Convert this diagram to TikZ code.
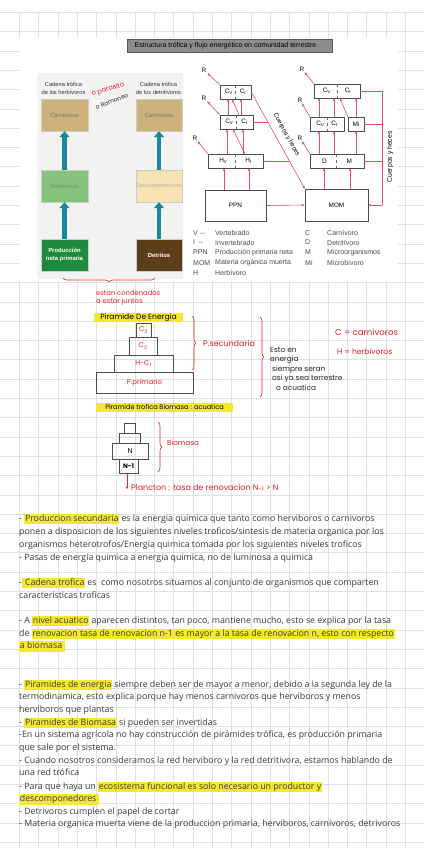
\documentclass[tikz,border=0pt]{standalone}
\usepackage{fontspec}
\setmainfont{Open Sans}
\newfontfamily\figfont{Liberation Sans}
\newfontfamily\handfont{Poppins}
\usetikzlibrary{arrows.meta,decorations.pathreplacing,positioning}

\definecolor{gridgray}{RGB}{224,224,224}
\definecolor{notegray}{RGB}{58,58,58}
\definecolor{hly}{RGB}{245,233,45}
\definecolor{handred}{RGB}{232,32,42}
\definecolor{netred}{RGB}{222,80,96}
\definecolor{chainteal}{RGB}{24,136,156}
\definecolor{panelgray}{RGB}{242,242,240}
\definecolor{tanbox}{RGB}{206,178,124}
\definecolor{herbgreen}{RGB}{134,196,126}
\definecolor{prodgreen}{RGB}{30,138,60}
\definecolor{creambox}{RGB}{247,226,178}
\definecolor{detbrown}{RGB}{92,62,24}

\newcommand\hlt[1]{{\setlength{\fboxsep}{0.7pt}\colorbox{hly}{\rule[-2.4pt]{0pt}{9.2pt}#1}}}
\newcommand\handsize[1]{\handfont\fontsize{#1}{9.5}\selectfont}

\tikzset{
  gridline/.style={draw=gridgray, line width=0.5pt},
  titlebar/.style={draw=black!65, fill=black!45, minimum width=205pt, minimum height=13pt, inner sep=0pt, font=\figfont\fontsize{7}{8}\selectfont},
  chainbox/.style={draw=black!20, minimum width=47pt, minimum height=32pt, inner sep=0pt, align=center, font=\figfont\fontsize{5.9}{7.4}\selectfont},
  chainhead/.style={align=center, inner sep=0pt, font=\figfont\fontsize{5.7}{8}\selectfont, text=black!80},
  tealflow/.style={draw=chainteal, line width=4.5pt, -{Triangle[length=6pt,width=10pt]}},
  netbox/.style={draw=black!70, line width=0.5pt, fill=white, inner sep=0pt, font=\figfont\fontsize{6.4}{7}\selectfont},
  flow/.style={draw=netred, line width=0.6pt, -{Stealth[length=3pt,width=2.6pt]}},
  link/.style={draw=netred, line width=0.6pt},
  rlabel/.style={inner sep=1pt, font=\figfont\fontsize{6.4}{7}\selectfont},
  legend/.style={anchor=west, inner sep=0pt, text=black!70, font=\figfont\fontsize{7}{8}\selectfont},
  hand/.style={inner sep=0pt, text=handred, font=\handsize{7.6}},
  handblack/.style={hand, text=black!85},
  pyrbox/.style={draw=black!70, line width=0.7pt, inner sep=0pt, font=\handsize{7}},
  redbrace/.style={draw=handred, line width=0.6pt, decorate, decoration={brace, amplitude=4pt}},
  note/.style={anchor=base west, inner sep=0pt, text=notegray, font=\fontsize{8.8}{10}\selectfont},
}

\begin{document}
\begin{tikzpicture}[x=1pt,y=-1pt]
\useasboundingbox (0,0) rectangle (424,848);
\fill[white] (0,0) rectangle (424,848);

% cuadricula
\foreach \gx in {1,...,21} \draw[gridline] (19.3*\gx,12.3) -- (19.3*\gx,848);
\foreach \gy in {0,...,43} \draw[gridline] (0,12.3+19.3*\gy) -- (424,12.3+19.3*\gy);

%%%%% figura %%%%%
\fill[white] (19,38) rectangle (398,281);
\fill[panelgray] (37,73) rectangle (183,279);
\node[titlebar] (title) at (229.5,45.5) {\hspace*{-8pt}Estructura trófica y flujo energético en comunidad terrestre};

% cadenas troficas
\node[chainhead] (headh) at (63.5,88) {Cadena trófica\\de los herbívoros};
\node[chainhead] (headd) at (158.5,88) {Cadena trófica\\de los detritívoros};

\node[chainbox, fill=tanbox, text=black!55] (carnh) at (64.5,115) {Carnívoros};
\node[chainbox, fill=herbgreen, text=black!50] (herb) at (64.5,186) {Herbívoros};
\node[chainbox, fill=prodgreen, text=white, font=\figfont\bfseries\fontsize{5.9}{7.6}\selectfont] (prod) at (64.5,255) {Producción\\neta primaria};

\node[chainbox, fill=tanbox, text=black!55, minimum width=46pt] (carnd) at (159,115) {Carnívoros};
\node[chainbox, fill=creambox, text=black!30, minimum width=46pt, font=\figfont\fontsize{5.5}{7}\selectfont] (desc) at (159,186) {Descomponedores};
\node[chainbox, fill=detbrown, text=white, minimum width=46pt, font=\figfont\bfseries\fontsize{5.9}{7.6}\selectfont] (detr) at (159,255) {Detritos};

\draw[tealflow] (prod.north) -- (herb.south);
\draw[tealflow] (herb.north) -- (carnh.south);
\draw[tealflow] (detr.north) -- (desc.south);
\draw[tealflow] (desc.north) -- (carnd.south);

\node[hand, rotate=16, font=\handsize{6.6}] (parasito) at (108,89.5) {o parasito};
\node[handblack, rotate=22, font=\handsize{6}] (ramoneo) at (112,101.5) {o Ramoneo};

% red herbivoros
\node[netbox, minimum width=31pt, minimum height=14pt] (lc3) at (235.5,92) {C\textsubscript{V}\hspace{7pt}C\textsubscript{I}};
\node[netbox, minimum width=33pt, minimum height=14pt] (lc2) at (236.5,122) {C\textsubscript{V}\hspace{8pt}C\textsubscript{I}};
\node[netbox, minimum width=55pt, minimum height=14pt] (lh) at (235.5,161) {H\textsubscript{V}\hspace{18pt}H\textsubscript{I}};
\node[netbox, minimum width=61pt, minimum height=31pt] (ppn) at (235.5,205.5) {PPN};
\foreach \b in {lc3,lc2,lh} \draw[dashed, black!60, line width=0.4pt] (\b.north) -- (\b.south);

\node[rlabel] (rl3) at (204,70) {R};
\node[rlabel] (rl2) at (204,98) {R};
\node[rlabel] (rl1) at (195,138) {R};
\draw[flow] (lc3.north west) -- (rl3);
\draw[flow] (lc2.north west) -- (rl2);
\draw[flow] (lh.north west) -- (rl1);

\draw[flow] (ppn.north -| 224,0) -- (lh.south -| 224,0);
\draw[flow] (ppn.north -| 249,0) -- (lh.south -| 249,0);
\draw[flow] (lh.north -| 227,0) -- (lc2.south -| 227,0);
\draw[flow] (lh.north -| 243,0) -- (lc2.south -| 243,0);
\draw[flow] (lh.north -| 245,0) -- (lc2.south -| 233,0);
\draw[flow] (lc2.north -| 228,0) -- (lc3.south -| 228,0);
\draw[flow] (lc2.north -| 241,0) -- (lc3.south -| 241,0);
\draw[flow] (lc2.north -| 239,0) -- (lc3.south -| 232,0);

% red detritivoros
\node[netbox, minimum width=46pt, minimum height=14pt] (rc3) at (337,91) {C\textsubscript{V}\hspace{14pt}C\textsubscript{I}};
\node[netbox, minimum width=34pt, minimum height=14pt] (rc2) at (327,124) {C\textsubscript{V}\hspace{7pt}C\textsubscript{I}};
\node[netbox, minimum width=16pt, minimum height=14pt] (mi) at (356,124) {Mi};
\node[netbox, minimum width=54pt, minimum height=14pt] (dm) at (337,161) {D\hspace{20pt}M};
\node[netbox, minimum width=63pt, minimum height=32pt] (mom) at (336.5,205) {MOM};
\draw[dashed, black!60, line width=0.4pt] (rc3.north -| 337,0) -- (rc3.south -| 337,0);
\draw[dashed, black!60, line width=0.4pt] (rc2.north) -- (rc2.south);
\draw[dashed, black!60, line width=0.4pt] (dm.north -| 336,0) -- (dm.south -| 336,0);

\node[rlabel] (rr3) at (302,69) {R};
\node[rlabel] (rr2) at (300,100) {R};
\node[rlabel] (rr1) at (300,138) {R};
\draw[flow] (rc3.north west) -- (rr3);
\draw[flow] (rc2.north west) -- (rr2);
\draw[flow] (dm.north west) -- (rr1);

\draw[flow] (mom.north -| 324,0) -- (dm.south -| 324,0);
\draw[flow] (mom.north -| 350,0) -- (dm.south -| 350,0);
\draw[flow] (dm.north -| 319,0) -- (rc2.south -| 319,0);
\draw[flow] (dm.north -| 334,0) -- (rc2.south -| 334,0);
\draw[flow] (dm.north -| mi.south) -- (mi.south);
\draw[flow] (rc2.north -| 319,0) -- (rc3.south -| 319,0);
\draw[flow] (rc2.north -| 334,0) -- (rc3.south -| 334,0);
\draw[flow] (mi.north) -- (rc3.south -| mi.north);
\draw[flow] (mi.north west) -- (rc3.south -| 340,0);

% cuerpos y heces
\coordinate (j2) at (267.7,122);
\coordinate (j1) at (289.4,161);
\draw[flow] (lc3.east) -- (mom.north west);
\draw[link] (lc2.east) -- (j2);
\draw[link] (lh.east) -- (j1);
\draw[flow] (ppn.east) -- (mom.west);
\node[rlabel, rotate=-61, inner sep=0pt] (heces1) at (286.5,135) {Cuerpos y heces};

\coordinate (ct) at (382,91);
\coordinate (cb) at (382,205);
\draw[link] (rc3.east) -- (ct) -- (cb);
\draw[link] (mi.east) -- (mi.east -| ct);
\draw[link] (dm.east) -- (dm.east -| ct);
\draw[flow] (cb) -- (mom.east);
\node[rlabel, rotate=90, font=\figfont\fontsize{6.8}{7}\selectfont] (heces2) at (390,157) {Cuerpos y heces};

% leyenda
\node[legend] (lv) at (193,233) {V\,\,--};
\node[legend] (li) at (193,242.5) {I\,\,\,--};
\node[legend] (lppn) at (193,252.5) {PPN};
\node[legend] (lmom) at (193,263) {MOM};
\node[legend] (lhh) at (193,273) {H};
\node[legend] (tv) at (215,233) {Vertebrado};
\node[legend] (ti) at (215,242.5) {Invertebrado};
\node[legend] (tppn) at (215,252.5) {Producción primaria neta};
\node[legend] (tmom) at (215,263) {Materia orgánica muerta};
\node[legend] (th) at (215,273) {Herbívoro};
\node[legend] (lc) at (305,233) {C};
\node[legend] (ld) at (305,242.5) {D};
\node[legend] (lm) at (305,252.5) {M};
\node[legend] (lmi) at (305,263) {Mi};
\node[legend] (tc) at (327,233) {Carnívoro};
\node[legend] (td) at (327,242.5) {Detritívoro};
\node[legend] (tm) at (327,252.5) {Microorganismos};
\node[legend] (tmi) at (327,263) {Microbívoro};

%%%%% notas a mano %%%%%
\draw[redbrace, decoration={mirror}] (63,278) -- (155,278);
\node[hand, anchor=north west, align=left, font=\handfont\fontsize{6.8}{8.2}\selectfont] (juntos) at (96,290) {estan condenados\\a estar juntos};

\node[hand, text=black, fill=hly, minimum width=89pt, minimum height=9pt] (pirener) at (138.5,317.5) {Piramide De Energia};
\node[pyrbox, minimum width=15pt, minimum height=14pt, text=handred] (c3box) at (143.5,330) {C\textsubscript{3}};
\node[pyrbox, minimum width=28pt, minimum height=18pt, text=handred] (c2box) at (143,346) {C\textsubscript{2}};
\node[pyrbox, minimum width=59pt, minimum height=17pt, text=handred] (hcbox) at (143.5,363.5) {H-C\textsubscript{1}};
\node[pyrbox, minimum width=97pt, minimum height=21pt, text=handred] (ppbox) at (144.5,382.5) {P.primario};

\draw[redbrace] (192,316) -- (192,370);
\node[hand, anchor=west, font=\handsize{8}] (psec) at (203,343) {P.secundaria};
\draw[redbrace] (260,317) -- (260,397);
\node[handblack, anchor=north west, align=left, font=\handsize{7.4}] (estoen) at (270,347) {Esto en\\energia\\\hspace{2pt}siempre seran\\\hspace{2pt}osi ya sea terrestre\\\hspace{6pt}o acuatica};

\node[hand, anchor=west, font=\handsize{8.6}] (cdef) at (335,332) {C = carnivoros};
\node[hand, anchor=west, font=\handsize{7.6}] (hdef) at (337,352) {H = herbivoros};

\node[hand, text=black, fill=hly, minimum width=137pt, minimum height=9pt, font=\handsize{6.6}] (pirbio) at (164.5,407.5) {Piramide trofica Biomasa : acuatica};
\node[pyrbox, minimum width=11pt, minimum height=10pt] (b4) at (129.5,428) {};
\node[pyrbox, minimum width=21pt, minimum height=10pt] (b3) at (129.5,438) {};
\node[pyrbox, minimum width=36pt, minimum height=16pt] (nbox) at (130,451) {N};
\node[pyrbox, minimum width=19pt, minimum height=14pt, font=\handfont\bfseries\fontsize{6.4}{7}\selectfont] (n1box) at (128.5,466) {N-1};
\draw[redbrace] (158,422) -- (158,472);
\node[hand, anchor=west, font=\handsize{7.2}] (biomasa) at (167,443) {Biomasa};
\coordinate (plk) at (127,489);
\draw[draw=handred, line width=0.6pt, -{Stealth[length=2.5pt,width=2.5pt]}] (n1box.south -| plk) -- (plk);
\node[hand, anchor=west, font=\handsize{8}] (plancton) at (131,488) {Plancton : tasa de renovacion N\textsubscript{-1} > N};

%%%%% apuntes %%%%%
\node[note] (n1) at (19,521) {- \hlt{Produccion secundaria} es la energia quimica que tanto como herviboros o carnivoros};
\node[note] (n2) at (19,534.5) {ponen a disposicion de los siguientes niveles troficos/sintesis de materia organica por los};
\node[note] (n3) at (19,547) {organismos heterotrofos/Energia quimica tomada por los siguientes niveles troficos};
\node[note] (n4) at (19,560) {- Pasas de energia quimica a energia quimica, no de luminosa a quimica};
\node[note] (n5) at (19,585) {-\hlt{ Cadena trofica} es \ como nosotros situamos al conjunto de organismos que comparten};
\node[note] (n6) at (19,598) {caracteristicas troficas};
\node[note] (n7) at (19,623) {- A \hlt{nivel acuatico} aparecen distintos, tan poco, mantiene mucho, esto se explica por la tasa};
\node[note] (n8) at (19,636) {de \hlt{renovacion tasa de renovacion n-1 es mayor a la tasa de renovacion n, esto con respecto}};
\node[note] (n9) at (19,648.5) {\hlt{a biomasa }};
\node[note] (n10) at (19,687) {- \hlt{Piramides de energia} siempre deben ser de mayor a menor, debido a la segunda ley de la};
\node[note] (n11) at (19,699.5) {termodinamica, esto explica porque hay menos carnivoros que herviboros y menos};
\node[note] (n12) at (19,712) {herviboros que plantas};
\node[note] (n13) at (19,725) {- \hlt{Piramides de Biomasa} si pueden ser invertidas};
\node[note] (n14) at (19,737.5) {-En un sistema agrícola no hay construcción de pirámides trófica, es producción primaria};
\node[note] (n15) at (19,750) {que sale por el sistema.};
\node[note] (n16) at (19,763) {- Cuando nosotros consideramos la red herviboro y la red detritivora, estamos hablando de};
\node[note] (n17) at (19,775.5) {una red trófica};
\node[note] (n18) at (19,789) {- Para que haya un \hlt{ecosistema funcional es solo necesario un productor y}};
\node[note] (n19) at (19,801.5) {\hlt{descomponedores }};
\node[note] (n20) at (19,814) {- Detrivoros cumplen el papel de cortar};
\node[note] (n21) at (19,826.5) {- Materia organica muerta viene de la produccion primaria, herviboros, carnivoros, detrivoros};
\end{tikzpicture}
\end{document}
